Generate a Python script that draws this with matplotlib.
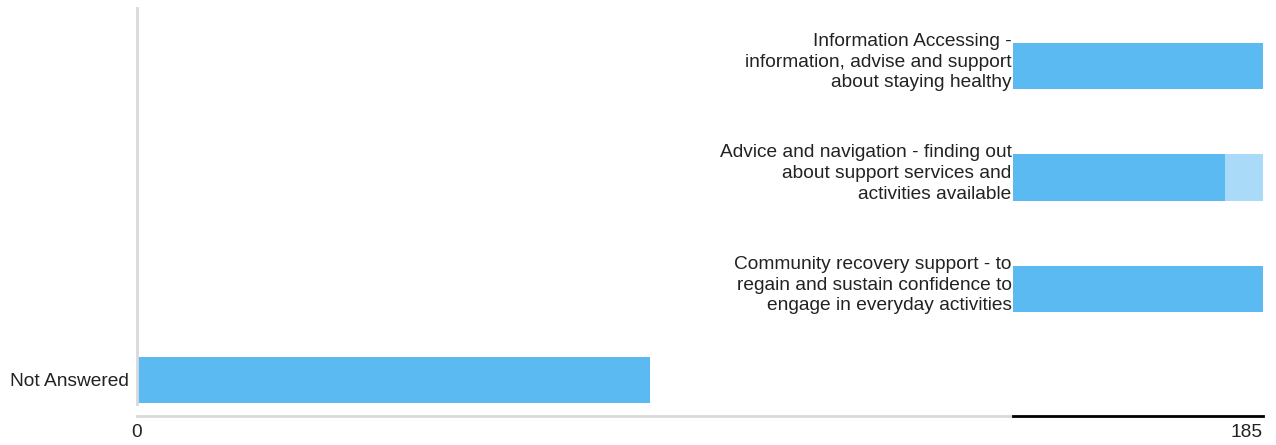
import matplotlib
matplotlib.use("Agg")
import matplotlib.pyplot as plt
from matplotlib.lines import Line2D

plt.rcParams['font.family'] = ['Liberation Sans', 'DejaVu Sans']

# Data
main_categories = ["Not Answered"]
main_values = [84.3]

service_categories = [
    "Information Accessing -\ninformation, advise and support\nabout staying healthy",
    "Advice and navigation - finding out\nabout support services and\nactivities available",
    "Community recovery support - to\nregain and sustain confidence to\nengage in everyday activities",
]
service_primary = [185, 157, 185]
service_secondary = [0, 28, 0]

x_max = 185
tick_labels = ["0", "185"]

BLUE = "#5bbaf2"
LIGHT_BLUE = "#a9daf8"
GRID_GREY = "#d9d9d9"
TEXT = "#222222"
FS = 13.8

W, H = 1276, 445
fig = plt.figure(figsize=(W / 100, H / 100), dpi=100)

def px_rect(left, top, right, bottom):
    return [left / W, (H - bottom) / H, (right - left) / W, (bottom - top) / H]

# Main axes with the "Not Answered" bar
ax = fig.add_axes(px_rect(137, 8, 1263, 416))
ax.barh([0], main_values, height=0.6, color=BLUE, align="center")
ax.set_xlim(0, x_max)
ax.set_ylim(-0.47, 4.85)
for s in ax.spines.values():
    s.set_visible(False)
ax.set_yticks([0])
ax.set_yticklabels(main_categories, fontsize=FS, color=TEXT)
ax.set_xticks([0])
ax.set_xticklabels([tick_labels[0]], fontsize=FS, color=TEXT)
ax.tick_params(axis="both", length=0)
ax.tick_params(axis="y", pad=6)
ax.tick_params(axis="x", pad=6)
ax.add_line(Line2D([0, 0], [0.03, 1.0], transform=ax.transAxes,
                   color=GRID_GREY, lw=2, clip_on=False))
ax.add_line(Line2D([0, 1], [0, 0], transform=ax.transAxes,
                   color=GRID_GREY, lw=2, clip_on=False))

# Service bars block
ax2 = fig.add_axes(px_rect(1013, 8, 1263, 416))
pos = [2, 1, 0]
ax2.barh(pos, service_primary, height=0.42, color=BLUE, align="center")
ax2.barh(pos, service_secondary, left=service_primary, height=0.42,
         color=LIGHT_BLUE, align="center")
ax2.set_xlim(0, x_max)
ax2.set_ylim(-1.139, 2.52)
ax2.patch.set_visible(False)
for s in ax2.spines.values():
    s.set_visible(False)
ax2.set_yticks([])
for p, label in zip(pos, service_categories):
    ax2.annotate(label, xy=(0, p), xycoords=("axes fraction", "data"),
                 xytext=(-1, 2.8), textcoords="offset points",
                 ha="right", va="center", fontsize=FS, color=TEXT,
                 linespacing=1.28, annotation_clip=False)
ax2.set_xticks([x_max])
ax2.set_xticklabels([tick_labels[1]], fontsize=FS, color=TEXT, ha="right")
ax2.tick_params(axis="both", length=0)
ax2.tick_params(axis="x", pad=6)
ax2.add_line(Line2D([0, 1], [0, 0], transform=ax2.transAxes,
                    color="black", lw=2, clip_on=False))

fig.savefig("out.png", dpi=100)
